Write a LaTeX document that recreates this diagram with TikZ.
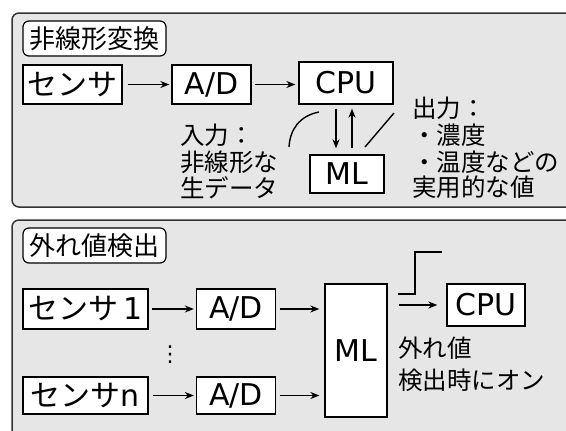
\documentclass[tikz,border=0pt]{standalone}
\usepackage{fontspec}
\setmainfont{DejaVu Sans}
\newfontfamily\jp{Noto Sans CJK JP}
\usetikzlibrary{arrows.meta}
\definecolor{panelgray}{HTML}{E6E6E6}
\definecolor{panelline}{HTML}{333333}
\tikzset{
  x=1pt, y=-1pt,
  panel/.style={draw=panelline, line width=1.5pt, fill=panelgray, rounded corners=7pt},
  tag/.style={draw=black, line width=1.2pt, fill=white, rounded corners=6pt, inner sep=0pt, font=\jp\fontsize{26}{28}\selectfont},
  blk/.style={draw=black, line width=1.3pt, fill=white, inner sep=0pt, font=\fontsize{30}{32}\selectfont},
  lbl/.style={inner sep=0pt, anchor=west, font=\jp\fontsize{24.5}{26}\selectfont},
  arr/.style={line width=1.5pt, -{Stealth[length=9pt,width=7pt]}},
  pln/.style={line width=1.4pt}
}
\begin{document}
\begin{tikzpicture}
\useasboundingbox (0,0) rectangle (566,431);
\begin{scope}
\clip (0,0) rectangle (566,431);
% panels
\draw[panel] (12,13) rectangle (600,207);
\draw[panel] (12,220) rectangle (600,460);
\end{scope}

% ---------- top panel ----------
\node[tag, minimum width=143pt, minimum height=35pt] (t1) at (94.5,38.5) {非線形変換};
\node[blk, minimum width=99pt, minimum height=39pt] (sen) at (72.5,84.5) {\jp センサ};
\node[blk, minimum width=79pt, minimum height=39pt] (ad) at (211.5,84.5) {A/D};
\node[blk, minimum width=94pt, minimum height=42pt] (cpu) at (346,83) {CPU};
\node[blk, minimum width=74pt, minimum height=38pt] (ml) at (347,174) {ML};

\draw[arr] ([xshift=5pt]sen.east) -- ([xshift=-2pt]ad.west);
\draw[arr] ([xshift=3pt]ad.east) -- ([xshift=-3pt]ad.east -| cpu.west);
\draw[arr] ([yshift=-4pt]cpu.south -| 336,0) -- ([yshift=6pt]ml.north -| 336,0);
\draw[arr] ([yshift=6pt]ml.north -| 352,0) -- ([yshift=-4pt]cpu.south -| 352,0);

\coordinate (c1a) at (319,112);
\coordinate (c1b) at (289,147);
\draw[pln] (c1a) .. controls (299,116) and (290,130) .. (c1b);
\coordinate (c2a) at (394,113);
\coordinate (c2b) at (365,147);
\draw[pln] (c2a) -- (c2b);

\node[lbl] (in1) at (180,135) {入力：};
\node[lbl] (in2) at (180,162) {非線形な};
\node[lbl] (in3) at (180,188) {生データ};

\node[lbl] (out1) at (412,108) {出力：};
\node[lbl] (out2) at (412,135) {・濃度};
\node[lbl] (out3) at (412,162) {・温度などの};
\node[lbl] (out4) at (412,187) {実用的な値};

% ---------- bottom panel ----------
\node[tag, minimum width=143pt, minimum height=35pt] (t2) at (94.5,245.5) {外れ値検出};
\node[blk, minimum width=125pt, minimum height=40pt] (s1) at (85.5,309) {{\jp センサ}\,1};
\node[blk, minimum width=79pt, minimum height=40pt] (ad1) at (236,309) {A/D};
\node[blk, minimum width=125pt, minimum height=37pt] (sn) at (85.5,395.5) {{\jp センサ}n};
\node[blk, minimum width=79pt, minimum height=37pt] (adn) at (236,395.5) {A/D};
\node[blk, minimum width=62pt, minimum height=133pt] (ml2) at (356,350.5) {ML};
\node[blk, minimum width=78pt, minimum height=42pt] (cpu2) at (486,305) {CPU};

\draw[arr] ([xshift=3pt]s1.east) -- ([xshift=-2pt]ad1.west);
\draw[arr] ([xshift=4pt]ad1.east) -- ([xshift=-5pt]ad1.east -| ml2.west);
\draw[arr] ([xshift=4pt]sn.east) -- ([xshift=-2pt]adn.west);
\draw[arr] ([xshift=4pt]adn.east) -- ([xshift=-5pt]adn.east -| ml2.west);
\draw[arr] ([xshift=11pt]ml2.east |- cpu2.west) -- ([xshift=-9pt]cpu2.west);

\coordinate (st1) at (398,294);
\coordinate (st2) at (415,294);
\coordinate (st3) at (415,252);
\coordinate (st4) at (442,252);
\draw[pln] (st1) -- (st2) -- (st3) -- (st4);

\node[inner sep=0pt, font=\fontsize{22}{24}\selectfont] (dots) at (170,355) {⋮};

\node[lbl] (o1) at (398,348) {外れ値};
\node[lbl] (o2) at (398,380) {検出時にオン};
\end{tikzpicture}
\end{document}
